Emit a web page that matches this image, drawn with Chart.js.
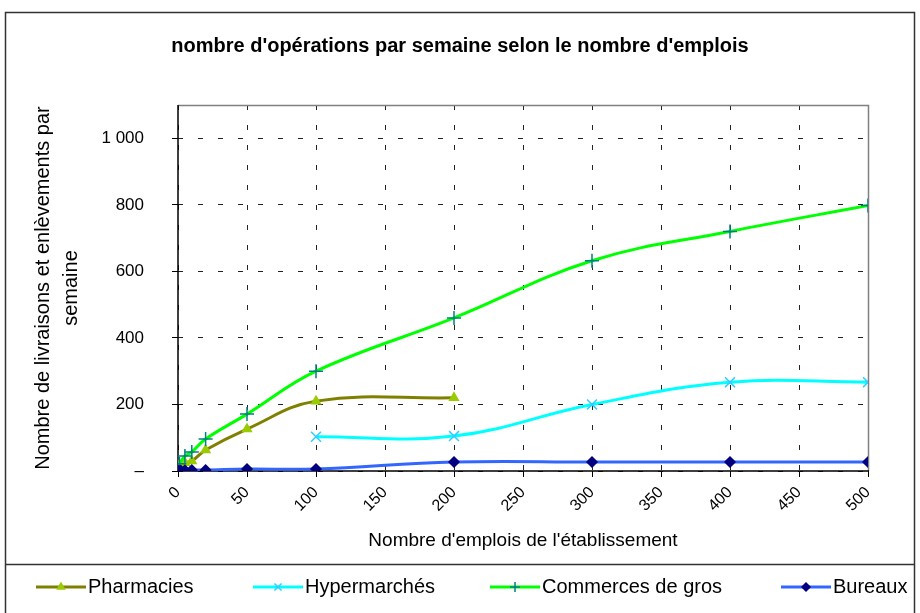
<!DOCTYPE html>
<html>
<head>
<meta charset="utf-8">
<script src="https://cdn.jsdelivr.net/npm/chart.js@4/dist/chart.umd.min.js"></script>
<style>
  body { margin: 0; background: #fff; }
</style>
</head>
<body>
<canvas id="myChart" width="920" height="613"></canvas>
<script>
const chartTitle = "nombre d'opérations par semaine selon le nombre d'emplois"
const xTitle = "Nombre d'emplois de l'établissement"
const yTitle = ['Nombre de livraisons et enlèvements par', 'semaine']

// employees (x) and weekly operations (y), one pair of arrays per series
const pharmaX = [1, 5, 10, 20, 50, 100, 200]
const pharmaY = [18, 25, 30, 63, 126, 210, 220]
const hyperX = [100, 200, 300, 400, 500]
const hyperY = [103, 105, 200, 267, 267]
const grosX = [1, 5, 10, 20, 50, 100, 200, 300, 400, 500]
const grosY = [22, 45, 57, 96, 171, 300, 460, 632, 720, 798]
const bureauX = [0.5, 2, 5, 10, 20, 50, 100, 200, 300, 400, 500]
const bureauY = [1, 1, 2, 3, 3, 6, 6, 27, 27, 27, 27]

const xTicks = [0, 50, 100, 150, 200, 250, 300, 350, 400, 450, 500]
const yTicks = [0, 200, 400, 600, 800, 1000]

const toPoints = (xs, ys) => xs.map((x, i) => ({ x: x, y: ys[i] }))

const series = [
  { label: 'Pharmacies', data: toPoints(pharmaX, pharmaY), line: '#808000',
    style: 'triangle', mark: '#99CC00', radius: 5, legendRadius: 4, order: 4 },
  { label: 'Hypermarchés', data: toPoints(hyperX, hyperY), line: '#00FFFF',
    style: 'crossRot', mark: '#33CCFF', radius: 7, legendRadius: 5, order: 3 },
  { label: 'Commerces de gros', data: toPoints(grosX, grosY), line: '#00FF00',
    style: 'cross', mark: '#008080', radius: 7, legendRadius: 5, order: 2 },
  { label: 'Bureaux', data: toPoints(bureauX, bureauY), line: '#3366FF',
    style: 'rectRot', mark: '#000080', radius: 5, legendRadius: 4, order: 1 },
]

const legendStarts = [36, 253, 490, 781]

const fmt = v => v === 0 ? '–' : String(v).replace(/\B(?=(\d{3})+(?!\d))/g, ' ')

const frame = {
  id: 'frame',
  beforeDraw(chart) {
    const ctx = chart.ctx
    ctx.save()
    ctx.fillStyle = '#fff'
    ctx.fillRect(0, 0, chart.width, chart.height)
    ctx.restore()
  },
  beforeDatasetsDraw(chart) {
    const { ctx, chartArea: a } = chart
    ctx.save()
    // grey top/right edge of the plot area
    ctx.strokeStyle = '#808080'
    ctx.lineWidth = 1.5
    ctx.beginPath()
    ctx.moveTo(a.left, a.top + 0.5)
    ctx.lineTo(a.right + 0.5, a.top + 0.5)
    ctx.lineTo(a.right + 0.5, a.bottom)
    ctx.stroke()
    // solid axes
    ctx.strokeStyle = '#000'
    ctx.beginPath()
    ctx.moveTo(a.left, a.top)
    ctx.lineTo(a.left, a.bottom)
    ctx.lineTo(a.right + 1, a.bottom)
    ctx.stroke()
    ctx.restore()
  },
  afterDraw(chart) {
    const ctx = chart.ctx
    ctx.save()
    ctx.strokeStyle = '#333'
    ctx.lineWidth = 1.5
    ctx.strokeRect(5.5, 12.5, 909, 640)
    ctx.beginPath()
    ctx.moveTo(5, 564.5)
    ctx.lineTo(915, 564.5)
    ctx.stroke()

    ctx.fillStyle = '#000'
    ctx.textAlign = 'center'
    ctx.textBaseline = 'middle'
    ctx.font = 'bold 20px "Liberation Sans", Arial, sans-serif'
    ctx.fillText(chartTitle, 460, 46)

    ctx.textAlign = 'left'
    ctx.font = '20px "Liberation Sans", Arial, sans-serif'
    series.forEach((s, i) => {
      const x0 = legendStarts[i]
      const y = 587
      ctx.strokeStyle = s.line
      ctx.lineWidth = 3
      ctx.beginPath()
      ctx.moveTo(x0, y)
      ctx.lineTo(x0 + 50, y)
      ctx.stroke()
      ctx.fillStyle = s.mark
      ctx.strokeStyle = s.mark
      ctx.lineWidth = 1.5
      Chart.helpers.drawPoint(ctx, { pointStyle: s.style, radius: s.legendRadius, borderWidth: 1.5, rotation: 0 }, x0 + 25, y)
      ctx.fillStyle = '#000'
      ctx.fillText(s.label, x0 + 52, y)
    })
    ctx.restore()
  }
}

const gridOpts = {
  color: '#222',
  lineWidth: 1,
  tickLength: 6,
  tickBorderDash: [],
  tickColor: '#000',
}

const ctx = document.getElementById('myChart')

new Chart(ctx, {
  type: 'line',
  data: {
    datasets: series.map(s => ({
      label: s.label,
      data: s.data,
      borderColor: s.line,
      borderWidth: 3,
      tension: 0.4,
      pointStyle: s.style,
      pointRadius: s.radius,
      pointBackgroundColor: s.mark,
      pointBorderColor: s.mark,
      pointBorderWidth: 1.5,
      order: s.order,
    }))
  },
  options: {
    responsive: false,
    animation: false,
    layout: { padding: { left: 10, right: 52, top: 105, bottom: 49 } },
    plugins: {
      legend: { display: false },
      title: { display: false },
      tooltip: { enabled: false },
    },
    scales: {
      x: {
        type: 'linear',
        min: 0,
        max: 500,
        afterBuildTicks: s => { s.ticks = xTicks.map(v => ({ value: v })) },
        afterFit: s => { s.height = 93 },
        ticks: {
          minRotation: 45,
          maxRotation: 45,
          padding: 6,
          color: '#000',
          font: { family: '"Liberation Sans", Arial, sans-serif', size: 16 },
        },
        grid: gridOpts,
        border: { display: false, dash: [5, 15] },
        title: {
          display: true,
          text: xTitle,
          color: '#000',
          font: { family: '"Liberation Sans", Arial, sans-serif', size: 19 },
          padding: { top: 0, bottom: 12 },
        },
      },
      y: {
        min: 0,
        max: 1100,
        afterBuildTicks: s => { s.ticks = yTicks.map(v => ({ value: v })) },
        afterFit: s => { s.width = 168 },
        ticks: {
          padding: 28,
          color: '#000',
          callback: v => fmt(v),
          font: { family: '"Liberation Sans", Arial, sans-serif', size: 17 },
        },
        grid: gridOpts,
        border: { display: false, dash: [5, 15] },
        title: {
          display: true,
          text: yTitle,
          color: '#000',
          font: { family: '"Liberation Sans", Arial, sans-serif', size: 20, lineHeight: 1.4 },
          padding: { top: 19, bottom: 0 },
        },
      },
    },
  },
  plugins: [frame],
})
</script>
</body>
</html>
